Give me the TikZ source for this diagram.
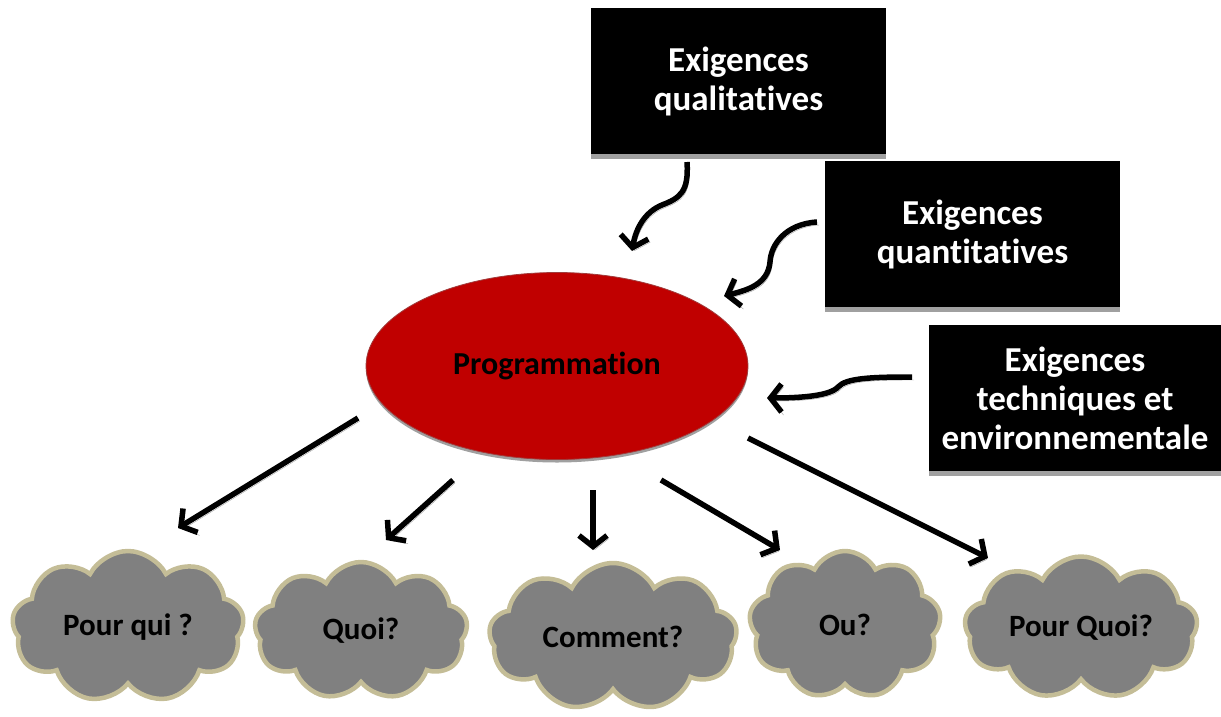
\documentclass[tikz,border=0pt]{standalone}
\usepackage{fontspec}
\setmainfont{Carlito}[Ligatures=NoCommon]
\usetikzlibrary{shapes.symbols,shapes.geometric,arrows.meta}
\definecolor{cloudfill}{RGB}{128,128,128}
\definecolor{cloudline}{RGB}{196,189,151}
\definecolor{progred}{RGB}{192,0,0}
\definecolor{progline}{RGB}{160,60,60}
\definecolor{shadowgray}{RGB}{160,160,160}
\tikzset{
  reqbox/.style={fill=black, text=white, font=\fontsize{35}{39}\selectfont\bfseries,
    align=center, minimum width=295pt, minimum height=146pt, inner sep=0pt,
    preaction={fill=shadowgray, transform canvas={yshift=-5pt}}},
  question/.style={cloud, cloud puffs=9, cloud puff arc=125, cloud ignores aspect,
    fill=cloudfill, draw=cloudline, line width=4.5pt, inner sep=0pt,
    font=\fontsize{31}{36}\selectfont\bfseries, text=black},
  prog/.style={ellipse, fill=progred, draw=progline, line width=0.8pt,
    minimum width=382pt, minimum height=187pt, inner sep=0pt,
    font=\fontsize{32}{38}\selectfont\bfseries, text=black,
    preaction={fill=shadowgray, transform canvas={yshift=-3pt}}},
  link/.style={line width=5.5pt, -{Straight Barb[length=11pt,width=28pt]},
    preaction={draw=shadowgray, transform canvas={xshift=2pt,yshift=-3pt}}},
}
\begin{document}
\begin{tikzpicture}[x=1pt,y=-1pt]
\useasboundingbox (0,0) rectangle (1221,716);
% boxes
\node[reqbox] (qual) at (738.5,81) {Exigences\\qualitatives};
\node[reqbox] (quant) at (972.5,234) {Exigences\\quantitatives};
\node[reqbox, minimum width=292pt] (tech) at (1075,398) {Exigences\\techniques et\\environnementale};
% ellipse
\node[prog] (prog) at (557,366) {Programmation};
% clouds
\node[question, minimum width=232pt, minimum height=152pt] (c1) at (128,627) {Pour qui ?};
\node[question, minimum width=213pt, minimum height=138pt] (c2) at (361,631) {Quoi?};
\node[question, minimum width=248pt, minimum height=148pt] (c3) at (613,637) {Comment?};
\node[question, minimum width=192pt, minimum height=148pt] (c4) at (845,625) {Ou?};
\node[question, minimum width=233pt, minimum height=143pt] (c5) at (1081,628) {Pour Quoi?};
% connector end points
\coordinate (q1) at (687,162);
\coordinate (q2) at (632,251);
\coordinate (n1) at (817,222);
\coordinate (n2) at (724,296);
\coordinate (t1) at (912,377);
\coordinate (t2) at (767,398);
\coordinate (a1) at (358,418);
\coordinate (a2) at (178,528);
\coordinate (b1) at (453,480);
\coordinate (b2) at (386,540);
\coordinate (d1) at (593,490);
\coordinate (d2) at (593,550);
\coordinate (e1) at (661,480);
\coordinate (e2) at (780,550);
\coordinate (f1) at (748,438);
\coordinate (f2) at (988,558);
% curvy arrows
\draw[link] (q1) .. controls (689,192) and (680,198) .. (662,205) .. controls (645,212) and (636,228) .. (q2);
\draw[link] (n1) .. controls (786,224) and (771,244) .. (770,262) .. controls (768,284) and (748,290) .. (n2);
\draw[link] (t1) .. controls (872,377) and (846,378) .. (838,387) .. controls (830,396) and (800,398) .. (t2);
% straight arrows
\draw[link] (a1) -- (a2);
\draw[link] (b1) -- (b2);
\draw[link] (d1) -- (d2);
\draw[link] (e1) -- (e2);
\draw[link] (f1) -- (f2);
\end{tikzpicture}
\end{document}
